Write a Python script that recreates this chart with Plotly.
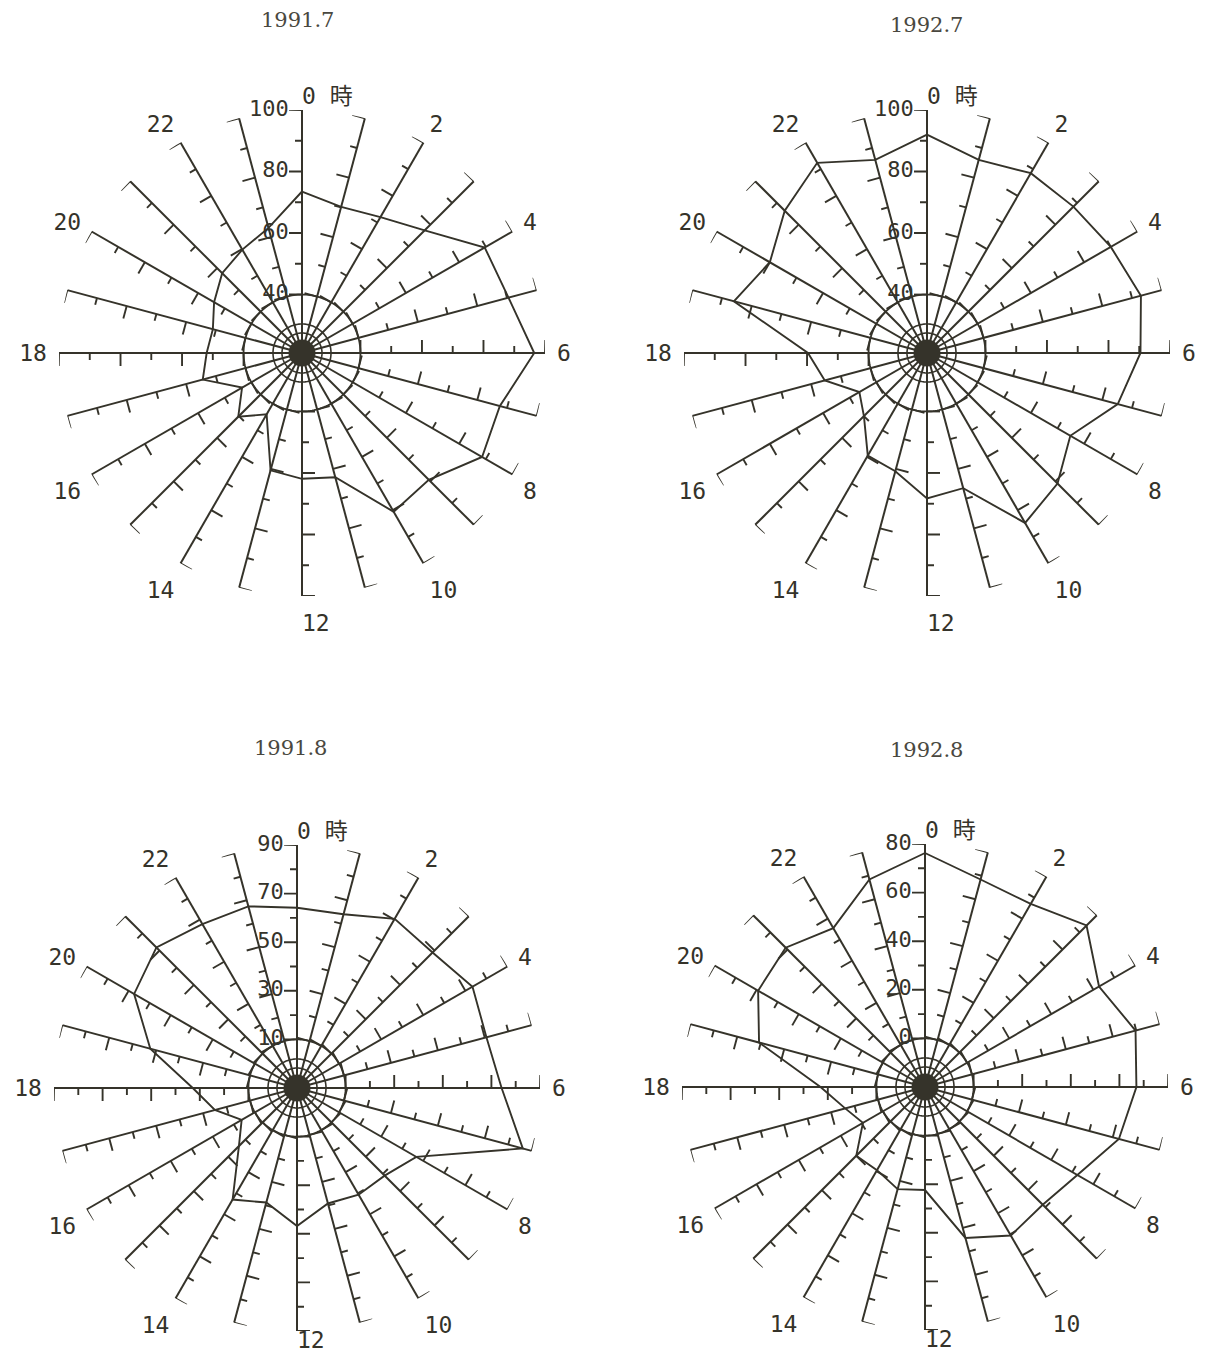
import numpy as np
import plotly.graph_objects as go

# ---------------- data ----------------
HOURS = list(range(24))
HOUR_TICKS = [0, 2, 4, 6, 8, 10, 12, 14, 16, 18, 20, 22]
HOUR_TEXT = ["0 時", "2", "4", "6", "8", "10", "12", "14", "16", "18", "20", "22"]
TITLES = ["1991.7", "1992.7", "1991.8", "1992.8"]

VAL_1991_7 = [73.5, 70.2, 72.0, 77.4, 89.6, 90.5, 96.5, 87.6, 88.6, 79.3, 80.6, 62.8,
              61.9, 60.5, 44.0, 50.3, 43.5, 54.4, 52.0, 51.0, 54.0, 57.7, 59.8, 63.1]
VAL_1992_7 = [92.0, 86.0, 88.5, 88.3, 90.0, 93.0, 90.4, 85.2, 74.8, 81.0, 84.8, 66.5,
              68.3, 60.8, 59.5, 50.0, 46.4, 55.4, 59.7, 86.0, 80.0, 86.4, 92.4, 86.0]
VAL_1991_8 = [64.2, 64.0, 70.4, 68.9, 73.4, 70.7, 74.2, 86.2, 46.7, 41.0, 40.7, 39.2,
              46.8, 38.8, 43.0, 23.8, 16.3, 25.0, 32.9, 52.5, 67.4, 71.8, 67.9, 67.4]
VAL_1992_8 = [76.3, 68.4, 67.0, 74.0, 62.7, 69.7, 67.0, 62.6, 52.4, 48.5, 50.6, 44.3,
              22.4, 23.5, 19.5, 20.0, 9.5, 14.0, 23.0, 50.7, 59.3, 61.1, 55.5, 68.4]
SERIES = [VAL_1991_7, VAL_1992_7, VAL_1991_8, VAL_1992_8]

AXIS_MIN = [21, 21, -10, -20]          # value at the centre
AXIS_MAX = [100, 100, 90, 80]
AXIS_LABELS = [[40, 60, 80, 100], [40, 60, 80, 100],
               [10, 30, 50, 70, 90], [0, 20, 40, 60, 80]]
TICK_STEP = 10

# ---------------- layout constants ----------------
W, H = 1208, 1361
R_PX = 243
CENTERS = [(302, 353), (927, 353), (297, 1088), (925, 1087)]
TITLE_POS = [(297, 20), (927, 25), (290, 748), (927, 750)]
TWELVE_ON_AXIS = [True, True, False, False]   # bottom row: keep "12" inside the page
INK = "#35332a"
MONO = "DejaVu Sans Mono, Noto Sans CJK JP, monospace"
NB = "\u00a0"

fig = go.Figure()
layout_polars = {}

for i in range(4):
    key = "polar" if i == 0 else f"polar{i+1}"
    cx, cy = CENTERS[i]
    r0, r1 = AXIS_MIN[i], AXIS_MAX[i]
    s = R_PX / (r1 - r0)               # px per unit
    labs = AXIS_LABELS[i]
    hour_text = []
    for h, t in zip(HOUR_TICKS, HOUR_TEXT):
        if h == 0:
            hour_text.append("")
        elif h == 12:
            hour_text.append(NB * 2 + t if TWELVE_ON_AXIS[i] else "")
        else:
            hour_text.append(t)
    layout_polars[key] = dict(
        domain=dict(x=[(cx - R_PX) / W, (cx + R_PX) / W],
                    y=[1 - (cy + R_PX) / H, 1 - (cy - R_PX) / H]),
        bgcolor="rgba(0,0,0,0)",
        radialaxis=dict(range=[r0, r1], showgrid=False, showline=False,
                        showticklabels=False, ticks=""),
        angularaxis=dict(direction="clockwise", rotation=90, thetaunit="degrees",
                         showgrid=False, showline=False, showticklabels=True,
                         tickmode="array", tickvals=[h * 15 for h in HOUR_TICKS],
                         ticktext=hour_text, ticks="outside", ticklen=7,
                         tickcolor="rgba(0,0,0,0)",
                         tickfont=dict(family=MONO, size=23, color=INK)),
    )
    thetas = [h * 15 for h in HOURS]

    # spokes
    sr, st = [], []
    for th in thetas:
        sr += [r0, r1, None]
        st += [th, th, None]
    fig.add_trace(go.Scatterpolar(r=sr, theta=st, mode="lines", subplot=key,
                                  line=dict(color=INK, width=2.0), hoverinfo="skip",
                                  connectgaps=False, cliponaxis=False, showlegend=False))

    # tick marks on every spoke (counter-clockwise side)
    tr, tt = [], []
    for th in thetas:
        for v in range(labs[0], r1 + 1, TICK_STEP):
            L = 13 if v in labs else 7
            rho = (v - r0) * s
            rho_e = np.hypot(rho, L)
            th_e = th - np.degrees(np.arctan2(L, rho))
            tr += [v, r0 + rho_e / s, None]
            tt += [th, th_e, None]
    fig.add_trace(go.Scatterpolar(r=tr, theta=tt, mode="lines", subplot=key,
                                  line=dict(color=INK, width=1.9), hoverinfo="skip",
                                  connectgaps=False, cliponaxis=False, showlegend=False))

    # circle at lowest labelled value and the small inner rings
    circ_t = list(np.linspace(0, 360, 181))
    for rv, wd in [(labs[0], 1.8), (r0 + 29 / s, 1.6), (r0 + 20 / s, 1.6)]:
        fig.add_trace(go.Scatterpolar(r=[rv] * len(circ_t), theta=circ_t, mode="lines",
                                      subplot=key, line=dict(color=INK, width=wd),
                                      hoverinfo="skip", showlegend=False))
    # dark hub
    fig.add_trace(go.Scatterpolar(r=[r0], theta=[0], mode="markers", subplot=key,
                                  marker=dict(color=INK, size=27), hoverinfo="skip",
                                  cliponaxis=False, showlegend=False))

    # data polygon
    vals = SERIES[i]
    fig.add_trace(go.Scatterpolar(r=vals + [vals[0]], theta=thetas + [thetas[0]],
                                  mode="lines", subplot=key,
                                  line=dict(color=INK, width=1.9),
                                  name=TITLES[i], cliponaxis=False, showlegend=False))

    # radial value labels on the 0-hour spoke (left of the major ticks)
    fig.add_trace(go.Scatterpolar(r=labs, theta=[0] * len(labs),
                                  text=[f"{v}{NB}" for v in labs], mode="text",
                                  textposition="middle left", subplot=key,
                                  textfont=dict(family=MONO, size=22, color=INK),
                                  hoverinfo="skip", cliponaxis=False, showlegend=False))

    # "0 時" (and, on the bottom row, "12") just right of the spoke ends
    txt_r, txt_t, txt_s, txt_p = [r1], [0], [HOUR_TEXT[0]], ["top right"]
    if not TWELVE_ON_AXIS[i]:
        txt_r.append(r1); txt_t.append(180); txt_s.append(HOUR_TEXT[6])
        txt_p.append("bottom right")
    fig.add_trace(go.Scatterpolar(r=txt_r, theta=txt_t, text=txt_s, mode="text",
                                  textposition=txt_p, subplot=key,
                                  textfont=dict(family=MONO, size=23, color=INK),
                                  hoverinfo="skip", cliponaxis=False, showlegend=False))

annotations = []
for i in range(4):
    x, y = TITLE_POS[i]
    annotations.append(dict(text=TITLES[i], x=x / W, y=1 - y / H, xref="paper", yref="paper",
                            showarrow=False, xanchor="center", yanchor="middle",
                            font=dict(family="DejaVu Serif, serif", size=21,
                                      color="#4a4840")))

fig.update_layout(width=W, height=H, margin=dict(l=0, r=0, t=0, b=0),
                  paper_bgcolor="#ffffff", plot_bgcolor="#ffffff",
                  showlegend=False, annotations=annotations, **layout_polars)

fig.write_html("out.html", config={"displayModeBar": False},
               post_script="document.body.style.margin='0px'; document.body.style.overflow='hidden';")
